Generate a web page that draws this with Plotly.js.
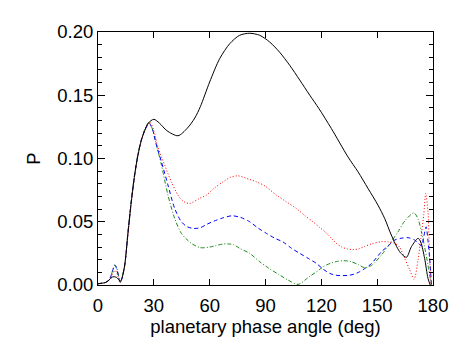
<!DOCTYPE html>
<html>
<head>
<meta charset="utf-8">
<script src="https://cdn.plot.ly/plotly-3.0.1.min.js"></script>
<style>
  body { margin: 0; background: #fff; }
  #chart { width: 463px; height: 348px; }
</style>
</head>
<body>
<div id="chart"></div>
<script>
// phase angle (deg) and polarisation P
const blackAngle = [0, 4, 6, 8, 10, 12, 13, 14.3, 16.1, 17.9, 19.7, 21.5, 23.3, 25.1, 27, 30, 33, 37, 43, 48, 52, 55, 60, 65.4, 70.8, 76.1, 81.5, 86.9, 92.3, 97.6, 103, 108.4, 113.8, 118.7, 125.4, 134.3, 139.7, 145.1, 150.4, 154, 157.6, 162.1, 165.7, 168.4, 172, 173.4, 175.5, 177.3, 178.5];
const blackP = [0.001, 0.002, 0.004, 0.0065, 0.006, 0.003, 0.006, 0.015, 0.041, 0.066, 0.087, 0.103, 0.1145, 0.122, 0.128, 0.131, 0.128, 0.122, 0.118, 0.124, 0.132, 0.141, 0.1605, 0.179, 0.1908, 0.1974, 0.199, 0.1974, 0.192, 0.184, 0.1737, 0.162, 0.15, 0.1395, 0.1237, 0.1013, 0.0895, 0.0763, 0.0632, 0.0527, 0.0395, 0.0263, 0.0219, 0.0303, 0.0369, 0.034, 0.021, 0.0053, 0];

const redAngle = [0, 4, 6, 8, 9, 10, 12, 14.3, 16.1, 17.9, 19.7, 21.5, 23.3, 25.1, 28, 30, 32.2, 35.8, 39.4, 43, 46, 49.3, 54.6, 58.2, 62, 67.2, 71, 75.2, 81.5, 85.1, 90, 95.9, 101, 106.6, 111, 115.5, 118.7, 122, 125.4, 128, 131, 134, 137, 140, 143.3, 147, 152.3, 156, 159.4, 162, 164.8, 167.5, 169.8, 172, 173.5, 175, 176.1, 177.3, 178, 178.8];
const redP = [0.001, 0.002, 0.004, 0.009, 0.0115, 0.01, 0.002, 0.015, 0.04, 0.065, 0.086, 0.102, 0.114, 0.122, 0.1285, 0.122, 0.109, 0.0948, 0.0816, 0.071, 0.066, 0.0645, 0.0685, 0.071, 0.076, 0.0816, 0.085, 0.0863, 0.0834, 0.0816, 0.078, 0.071, 0.066, 0.0605, 0.055, 0.05, 0.046, 0.042, 0.037, 0.033, 0.03, 0.0285, 0.028, 0.0285, 0.0305, 0.0325, 0.0342, 0.034, 0.033, 0.03, 0.021, 0.012, 0.0045, 0.02, 0.037, 0.055, 0.0724, 0.058, 0.03, 0];

const blueAngle = [0, 4, 6, 8, 9, 10, 12, 14.3, 16.1, 17.9, 19.7, 21.5, 23.3, 25.1, 27.4, 29.5, 31.4, 34.1, 37.6, 41.2, 44.8, 48, 51.5, 55, 58.5, 62.3, 67, 72, 76.5, 81.5, 86, 90.5, 95, 99.4, 104, 108.4, 113, 117.3, 121, 124.5, 127.5, 130.8, 134.3, 137.5, 140.6, 143.3, 147, 152.3, 156, 159.4, 163, 166.6, 170.2, 172, 173.8, 175, 176.3, 177.3, 178.2, 179.2];
const blueP = [0.001, 0.002, 0.004, 0.012, 0.0158, 0.013, 0.002, 0.015, 0.041, 0.066, 0.087, 0.103, 0.1145, 0.122, 0.128, 0.122, 0.1105, 0.0974, 0.079, 0.0605, 0.05, 0.046, 0.0447, 0.0453, 0.048, 0.0505, 0.053, 0.0547, 0.0535, 0.05, 0.045, 0.0408, 0.037, 0.034, 0.029, 0.025, 0.021, 0.0171, 0.0125, 0.0092, 0.0078, 0.0074, 0.0076, 0.0085, 0.0105, 0.013, 0.017, 0.0263, 0.031, 0.0355, 0.037, 0.0374, 0.0355, 0.033, 0.031, 0.038, 0.046, 0.035, 0.021, 0];

const greenAngle = [0, 4, 6, 8, 9, 10, 12, 14.3, 16.1, 17.9, 19.7, 21.5, 23.3, 25.1, 27.4, 28.8, 30.5, 34.1, 37.6, 41.2, 44.8, 50.2, 55, 60, 63, 67.2, 70, 73, 76.1, 81.5, 86.9, 92, 97.6, 102, 107.5, 113, 118.7, 121, 125, 128, 132, 136, 140, 143.3, 147, 152.3, 156.5, 161.2, 165, 169.8, 172, 173.8, 175.5, 177.3, 179.1];
const greenP = [0.001, 0.002, 0.004, 0.012, 0.0158, 0.014, 0.002, 0.016, 0.042, 0.067, 0.088, 0.104, 0.115, 0.123, 0.1285, 0.125, 0.1158, 0.0948, 0.071, 0.0527, 0.0408, 0.0329, 0.0295, 0.03, 0.031, 0.0324, 0.0325, 0.0318, 0.029, 0.025, 0.0184, 0.013, 0.0079, 0.004, 0.0005, 0.006, 0.0118, 0.0145, 0.0172, 0.0185, 0.0192, 0.0185, 0.016, 0.0137, 0.0155, 0.0237, 0.032, 0.042, 0.051, 0.057, 0.052, 0.042, 0.03, 0.0158, 0];

const xTicks = [0, 30, 60, 90, 120, 150, 180];
const yTicks = [0.00, 0.05, 0.10, 0.15, 0.20];

function curve(x, y, color, dash) {
    return {
        x: x, y: y,
        type: 'scatter', mode: 'lines',
        line: { color: color, width: 1, dash: dash, shape: 'spline', smoothing: 0.8 },
        hoverinfo: 'skip'
    };
}

const data = [
    curve(greenAngle, greenP, '#1f8a1f', '4px,2px,1px,2px'),
    curve(blueAngle, blueP, '#0000ff', '4px,3px'),
    curve(redAngle, redP, '#ff0000', '1px,2px'),
    curve(blackAngle, blackP, '#000000', 'solid')
];

const axisFont = { family: 'Liberation Sans, Arial, sans-serif', size: 18.5, color: '#000' };

const layout = {
    width: 463, height: 348,
    margin: { l: 98, r: 30, t: 32, b: 63 },
    paper_bgcolor: '#fff', plot_bgcolor: '#fff',
    showlegend: false,
    font: axisFont,
    xaxis: {
        range: [0, 180],
        tickvals: xTicks,
        ticktext: xTicks.map(String),
        ticks: 'inside', ticklen: 6, tickcolor: '#000', tickwidth: 1,
        ticklabelstandoff: 4,
        showline: true, linecolor: '#000', linewidth: 1, mirror: 'ticks',
        showgrid: false, zeroline: false,
        tickfont: axisFont,
        title: { text: 'planetary phase angle (deg)', font: axisFont, standoff: 0 }
    },
    yaxis: {
        range: [0, 0.2],
        tickvals: yTicks,
        ticktext: yTicks.map(v => v.toFixed(2)),
        ticks: 'inside', ticklen: 7, tickcolor: '#000', tickwidth: 1,
        minor: { dtick: 0.01, ticks: 'inside', ticklen: 4, tickcolor: '#000', showgrid: false },
        showline: true, linecolor: '#000', linewidth: 1, mirror: 'ticks',
        showgrid: false, zeroline: false,
        tickfont: axisFont,
        title: { text: 'P', font: axisFont, standoff: 11 }
    }
};

Plotly.newPlot('chart', data, layout, { staticPlot: true });
</script>
</body>
</html>
